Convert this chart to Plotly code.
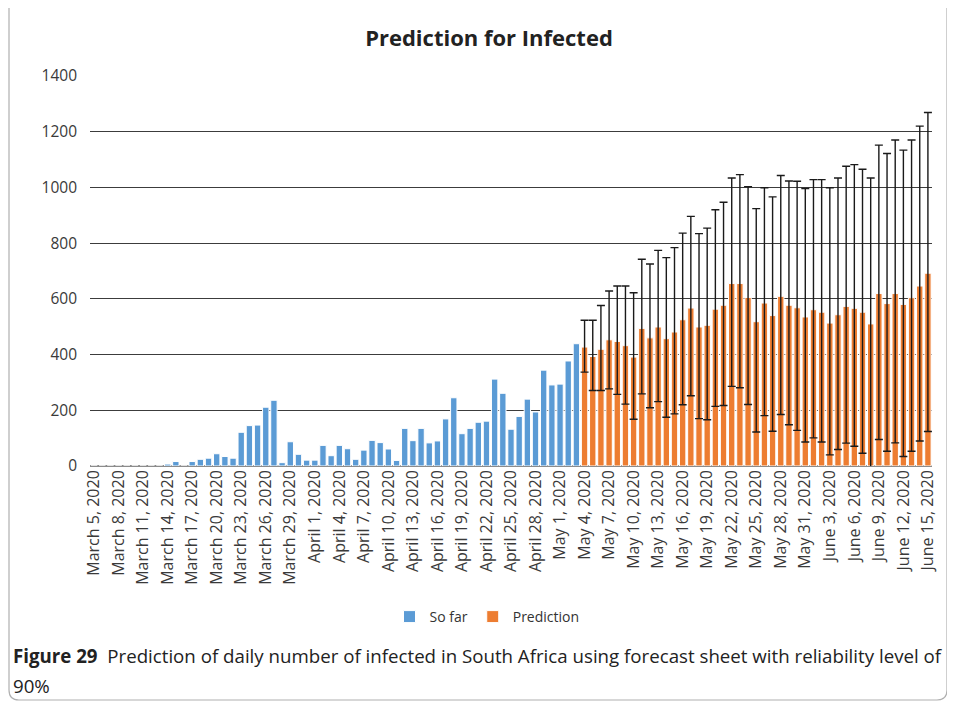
import pandas as pd
import plotly.graph_objects as go

# Daily dates on the x axis (categories)
dates = pd.date_range("2020-03-05", "2020-06-15", freq="D")
labels = [f"{d:%B} {d.day}, {d.year}" for d in dates]

# Observed daily infected, March 5 - May 3
so_far = [0, 0, 0, 0, 0, 0, 0, 0, 0,
          7, 16, 0, 16, 24, 28, 44, 34, 28, 121, 145, 147, 211, 236, 12, 87, 42, 21,
          21, 74, 37, 74, 62, 24, 57, 92, 84, 61, 20, 135, 91, 135, 83, 90, 169, 245,
          116, 135, 157, 161, 312, 261, 132, 178, 240, 194, 344, 291,
          294, 377, 439]

# Forecast, May 4 - June 15, with upper / lower bound (90%)
prediction = [427, 393, 419, 453, 447, 432, 391, 494, 460, 499, 457, 481, 525, 567,
              499, 505, 563, 577, 655, 655, 605, 518, 585, 540, 609, 577, 568, 535,
              561, 552, 513, 543, 573, 566, 552, 510, 619, 583, 619, 580, 604, 646, 692]
upper = [523, 523, 576, 628, 646, 646, 622, 742, 725, 774, 748, 784, 836, 896,
         834, 854, 920, 947, 1034, 1046, 1003, 924, 999, 966, 1043, 1023, 1022, 996,
         1028, 1028, 999, 1034, 1076, 1082, 1065, 1034, 1152, 1122, 1170, 1134, 1170, 1220, 1269]
lower = [337, 271, 271, 277, 257, 222, 168, 259, 209, 231, 175, 187, 220, 252,
         170, 166, 214, 217, 286, 281, 221, 122, 181, 125, 185, 148, 128, 86,
         101, 86, 40, 59, 82, 71, 46, -15, 95, 53, 83, 34, 53, 90, 124]

tick_labels = labels[::3]

# page has an 8px body margin, so page coords are shifted by OFF
OFF = 8
W, H = 955, 710
L, R, T, B = 82, 31, 68, 252
pw, ph = W - L - R, H - T - B

def px(x):
    # page pixel -> paper x
    return (x - OFF - L) / pw

def py(y):
    # page pixel -> paper y
    return (H - B - (y - OFF)) / ph

fig = go.Figure()
fig.add_trace(go.Bar(x=labels[:60], y=so_far, name="So far",
                     marker=dict(color="#5B9BD5", line=dict(color="white", width=1))))
fig.add_trace(go.Bar(x=labels[60:], y=prediction, name="Prediction",
                     marker=dict(color="#ED7D31", line=dict(color="white", width=1)),
                     error_y=dict(type="data", symmetric=False,
                                  array=[u - p for u, p in zip(upper, prediction)],
                                  arrayminus=[p - l for p, l in zip(prediction, lower)],
                                  color="#1a1a1a", thickness=1.4, width=4)))

fig.update_xaxes(type="category", categoryorder="array", categoryarray=labels,
                 tickmode="array", tickvals=tick_labels, ticktext=tick_labels,
                 tickangle=-90, ticks="", showgrid=False,
                 tickfont=dict(family="Open Sans", size=16, color="#3a3a3a"))
fig.update_yaxes(range=[0, 1400], dtick=200, showgrid=True, gridcolor="#3c3c3c", gridwidth=1.2,
                 zeroline=True, zerolinecolor="#8c8c8c", zerolinewidth=1.5,
                 ticks="", ticklabelstandoff=12,
                 tickfont=dict(family="Open Sans", size=15.5, color="#3a3a3a"))

fig.update_layout(
    width=W, height=H, barmode="overlay", bargap=0.22,
    plot_bgcolor="white", paper_bgcolor="white",
    margin=dict(l=L, r=R, t=T, b=B, autoexpand=False),
    title=dict(text="<b>Prediction for Infected</b>", x=(489 - OFF) / W, xanchor="center",
               y=1 - (38 - OFF) / H, yanchor="middle",
               font=dict(family="Open Sans", size=22, color="#222222")),
    legend=dict(orientation="h", x=px(487), xanchor="center", y=py(617), yanchor="middle",
                font=dict(family="Open Sans", size=14, color="#333333"),
                itemwidth=30, tracegroupgap=0),
    showlegend=True,
)

# Caption under the chart
fig.add_annotation(xref="paper", yref="paper", x=px(11), y=py(655), xanchor="left", yanchor="middle",
                   text="<b>Figure 29</b>  Prediction of daily number of infected in South Africa using forecast sheet with reliability level of",
                   showarrow=False, font=dict(family="Open Sans", size=18.7, color="#222222"))
fig.add_annotation(xref="paper", yref="paper", x=px(11), y=py(685), xanchor="left", yanchor="middle",
                   text="90%", showarrow=False, font=dict(family="Open Sans", size=18.7, color="#222222"))

# Rounded frame around the figure
path = (f"M {px(9)},{py(-5)} L {px(9)},{py(690)} Q {px(9)},{py(700)} {px(19)},{py(700)} "
        f"L {px(937)},{py(700)} Q {px(947)},{py(700)} {px(947)},{py(690)} L {px(947)},{py(-5)}")
fig.add_shape(type="path", xref="paper", yref="paper", path=path,
              line=dict(color="#b0b0b0", width=1.2))

fig.write_html("out.html")
